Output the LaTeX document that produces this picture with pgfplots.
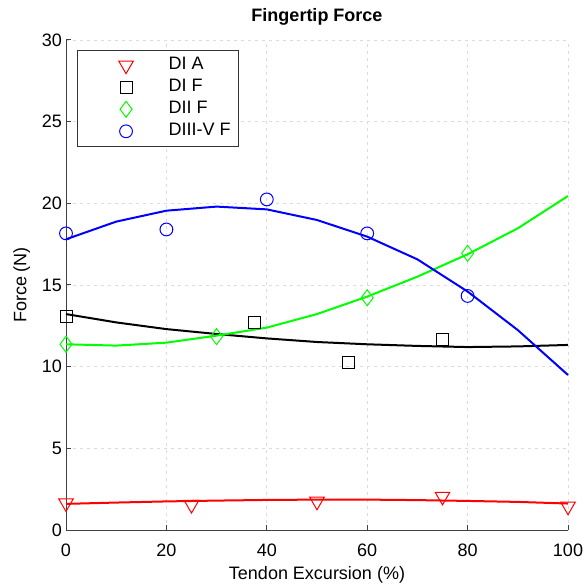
\documentclass[border=0pt]{standalone}
\usepackage{fontspec}
\setmainfont{Liberation Sans}
\usepackage{pgfplots}
\pgfplotsset{compat=1.18}
\usetikzlibrary{calc}

\pgfplotsset{
  lgd/.style={legend image code/.code={\path (0pt,0pt) (41pt,0pt); \draw[##1] plot coordinates {(23pt,0pt)};}},
}

\begin{document}
\begin{tikzpicture}
\begin{axis}[
    name=ax,
    scale only axis, width=251pt, height=245pt,
    xmin=0, xmax=100, ymin=0, ymax=30,
    xtick={0,20,40,60,80,100}, ytick={0,5,10,15,20,25,30},
    axis lines=left, axis line style={-, black!75, line width=0.5pt},
    tick align=inside, major tick length=2.5pt, tick style={black!75, line width=0.5pt},
    grid=major, grid style={gray!28, dash pattern=on 1.5pt off 2pt, line width=0.4pt},
    font=\fontsize{9}{11}\selectfont,
    /pgf/number format/assume math mode=true,
    xticklabel style={font=\fontsize{9}{11}\selectfont, yshift=-3.5pt},
    yticklabel style={font=\fontsize{9}{11}\selectfont, xshift=1.5pt},
    xlabel={Tendon Excursion (\%)},
    ylabel={Force (N)},
    every axis x label/.style={at={(axis description cs:0.5,-0.092)}, anchor=center},
    every axis y label/.style={at={(axis description cs:-0.088,0.5)}, anchor=center, rotate=90},
    legend style={at={(axis description cs:0.022,0.98)}, anchor=north west,
      draw=black!80, line width=0.5pt, inner xsep=1pt, inner ysep=2pt,
      font=\fontsize{9}{11}\selectfont, row sep=0pt,
      nodes={inner sep=0pt, inner xsep=3pt, text height=7.5pt, text depth=3.5pt},
      cells={anchor=west}},
    clip=false,
]
% fitted curves
\addplot[red, line width=1pt, forget plot] coordinates {
  (0,1.6) (10,1.68) (20,1.75) (30,1.8) (40,1.84) (50,1.86) (60,1.86) (70,1.83) (80,1.78) (90,1.72) (100,1.62)};
\addplot[black, line width=1pt, forget plot] coordinates {
  (0,13.22) (10,12.71) (20,12.3) (30,12.0) (40,11.73) (50,11.51) (60,11.37) (70,11.27) (80,11.2) (90,11.24) (100,11.33)};
\addplot[green, line width=1pt, forget plot] coordinates {
  (0,11.37) (10,11.29) (20,11.47) (30,11.9) (40,12.39) (50,13.22) (60,14.29) (70,15.51) (80,16.88) (90,18.47) (100,20.45)};
\addplot[blue, line width=1pt, forget plot] coordinates {
  (0,17.8) (10,18.88) (20,19.55) (30,19.8) (40,19.63) (50,18.98) (60,17.96) (70,16.57) (80,14.6) (90,12.24) (100,9.49)};
% measured points
\addplot[only marks, red, mark=triangle, mark size=4.2pt, mark options={rotate=180, line width=0.5pt}, lgd] coordinates {
  (0,1.65) (25,1.55) (50,1.75) (75,2.05) (100,1.45)};
\addlegendentry{DI A}
\addplot[only marks, black, mark=square, mark size=3pt, mark options={line width=0.5pt}, lgd] coordinates {
  (0,13.06) (37.5,12.69) (56.25,10.27) (75,11.67)};
\addlegendentry{DI F}
\addplot[only marks, green, mark=diamond, mark size=4pt, mark options={line width=0.5pt}, lgd] coordinates {
  (0,11.37) (30,11.84) (60,14.22) (80,16.94)};
\addlegendentry{DII F}
\addplot[only marks, blue, mark=o, mark size=3.2pt, mark options={line width=0.5pt}, lgd] coordinates {
  (0,18.16) (20,18.4) (40,20.24) (60,18.16) (80,14.33)};
\addlegendentry{DIII-V F}
\end{axis}
\node[font=\fontsize{9}{11}\selectfont\bfseries, anchor=center] at ($(ax.north)+(0,11.5pt)$) {Fingertip Force};
\pgfresetboundingbox
\path ($(ax.south west)+(-33pt,-27pt)$) rectangle ($(ax.north east)+(8pt,20pt)$);
\end{tikzpicture}
\end{document}
